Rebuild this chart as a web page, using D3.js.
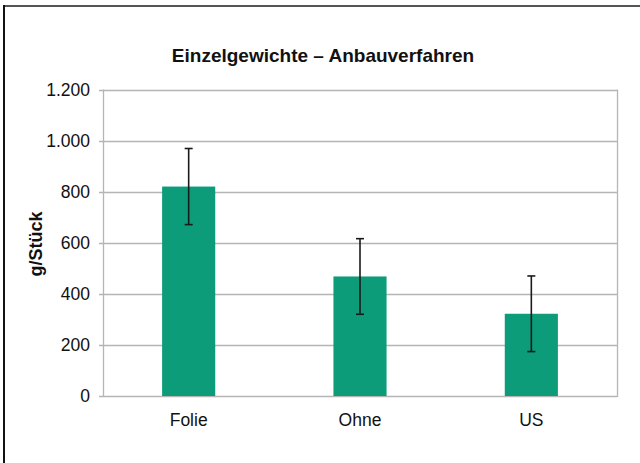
<!DOCTYPE html>
<html><head><meta charset="utf-8">
<script src="https://cdn.jsdelivr.net/npm/d3@7"></script>
<style>body{margin:0;background:#fff}svg{display:block}</style>
</head><body>
<svg id="c" width="640" height="463"></svg>
<script>
const categories = ["Folie", "Ohne", "US"];
const values = [820, 468, 322];
const errors = [149, 148, 148];
const yTicks = [0, 200, 400, 600, 800, 1000, 1200];
const title = "Einzelgewichte – Anbauverfahren";
const yLabel = "g/Stück";

const svg = d3.select("#c");
const font = "'Liberation Sans', Arial, Helvetica, sans-serif";
const m = {left: 103, right: 617, top: 89.5, bottom: 396};

// outer frame
svg.append("line").attr("x1", 4).attr("x2", 640).attr("y1", 6).attr("y2", 6).attr("stroke", "#555").attr("stroke-width", 2);
svg.append("line").attr("x1", 4).attr("x2", 4).attr("y1", 5).attr("y2", 463).attr("stroke", "#111").attr("stroke-width", 2);

const x = d3.scaleBand().domain(categories).range([m.left, m.right]).padding(0);
const y = d3.scaleLinear().domain([0, 1200]).range([m.bottom, m.top]);
const fmt = v => d3.format(",")(v).replace(/,/g, ".");

// grid
svg.append("g").selectAll("line").data(yTicks).join("line")
  .attr("x1", m.left - 4).attr("x2", m.right)
  .attr("y1", d => Math.round(y(d)) + 0.5).attr("y2", d => Math.round(y(d)) + 0.5)
  .attr("stroke", "#b5b5b5").attr("stroke-width", 1.3);
svg.append("line").attr("x1", m.left + 0.5).attr("x2", m.left + 0.5).attr("y1", m.top).attr("y2", m.bottom + 1).attr("stroke", "#b5b5b5").attr("stroke-width", 1.3);
svg.append("line").attr("x1", m.right + 0.5).attr("x2", m.right + 0.5).attr("y1", m.top).attr("y2", m.bottom + 1).attr("stroke", "#b5b5b5").attr("stroke-width", 1.3);

// y tick labels
svg.append("g").selectAll("text").data(yTicks).join("text")
  .attr("x", 90).attr("y", d => y(d)).attr("dy", "0.35em")
  .attr("text-anchor", "end").attr("font-family", font).attr("font-size", 17.5).attr("fill", "#111")
  .text(fmt);

// bars
const bw = x.bandwidth() * 0.31;
svg.append("g").selectAll("rect").data(categories).join("rect")
  .attr("x", d => x(d) + x.bandwidth() / 2 - bw / 2)
  .attr("width", bw)
  .attr("y", (d, i) => y(values[i]))
  .attr("height", (d, i) => y(0) - y(values[i]))
  .attr("fill", "#0c9c7a");

// error bars
const eg = svg.append("g").attr("stroke", "#1a1a1a").attr("stroke-width", 1.6);
categories.forEach((c, i) => {
  const cx = x(c) + x.bandwidth() / 2;
  const t = y(values[i] + errors[i]), b = y(values[i] - errors[i]);
  eg.append("line").attr("x1", cx).attr("x2", cx).attr("y1", t).attr("y2", b);
  eg.append("line").attr("x1", cx - 4).attr("x2", cx + 4).attr("y1", t).attr("y2", t);
  eg.append("line").attr("x1", cx - 4).attr("x2", cx + 4).attr("y1", b).attr("y2", b);
});

// category labels
svg.append("g").selectAll("text").data(categories).join("text")
  .attr("x", d => x(d) + x.bandwidth() / 2).attr("y", 426)
  .attr("text-anchor", "middle").attr("font-family", font).attr("font-size", 17.5).attr("fill", "#111")
  .text(d => d);

// title
svg.append("text").attr("x", 323).attr("y", 62).attr("text-anchor", "middle")
  .attr("font-family", font).attr("font-weight", "bold").attr("font-size", 19).attr("fill", "#111")
  .text(title);

// y label
svg.append("text").attr("transform", "translate(42,244) rotate(-90)").attr("text-anchor", "middle")
  .attr("font-family", font).attr("font-weight", "bold").attr("font-size", 18).attr("fill", "#111")
  .text(yLabel);
</script>
</body></html>
